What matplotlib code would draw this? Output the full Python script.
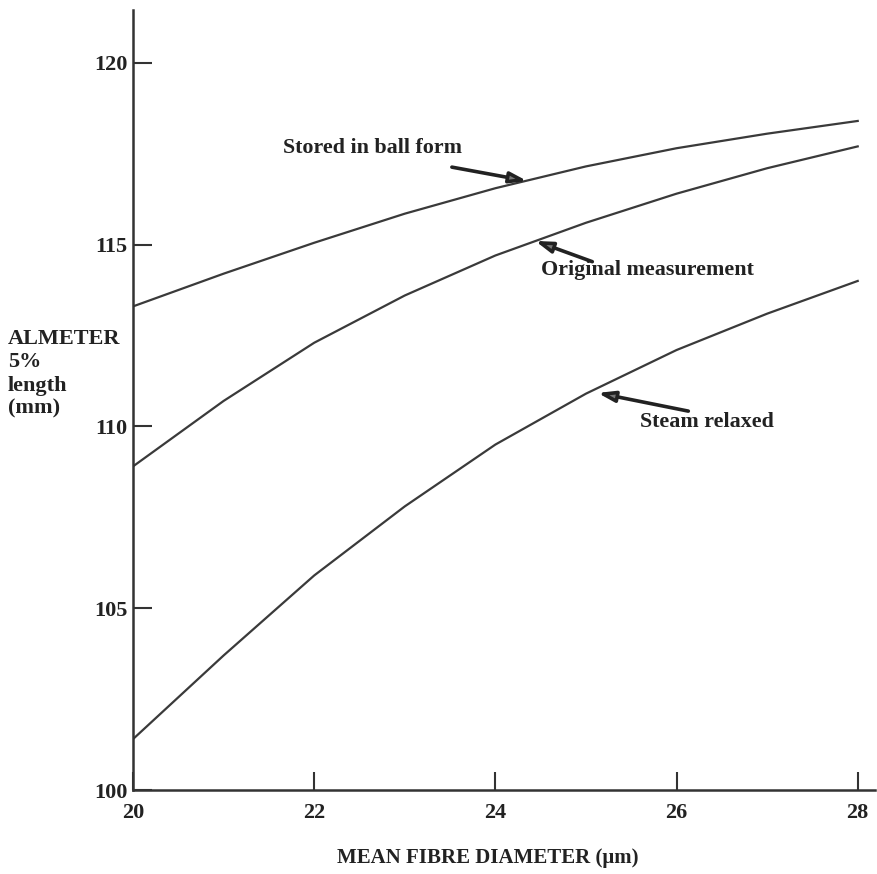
import matplotlib
matplotlib.use('Agg')
import matplotlib.pyplot as plt

# data
diameter = [20, 21, 22, 23, 24, 25, 26, 27, 28]
stored_ball = [113.3, 114.2, 115.05, 115.85, 116.55, 117.15, 117.65, 118.05, 118.4]
original = [108.9, 110.7, 112.3, 113.6, 114.7, 115.6, 116.4, 117.1, 117.7]
steam_relaxed = [101.4, 103.7, 105.9, 107.8, 109.5, 110.9, 112.1, 113.1, 114.0]

x_ticks = [20, 22, 24, 26, 28]
y_ticks = [100, 105, 110, 115, 120]

plt.rcParams['font.family'] = ['Liberation Serif', 'DejaVu Serif']
plt.rcParams['font.weight'] = 'bold'

fig = plt.figure(figsize=(8.78, 8.74), dpi=100)
ax = fig.add_axes([0.1515, 0.0961, 0.845, 0.8924])

line_kw = dict(color='#3a3a3a', lw=1.6)
ax.plot(diameter, stored_ball, **line_kw)
ax.plot(diameter, original, **line_kw)
ax.plot(diameter, steam_relaxed, **line_kw)

ax.set_xlim(20, 28.19)
ax.set_ylim(100, 121.45)
ax.set_xticks(x_ticks)
ax.set_yticks(y_ticks)
ax.tick_params(direction='in', length=14, width=1.5, color='#333333',
               labelsize=16, pad=4)
ax.tick_params(axis='x', length=13, pad=9)
for lab in ax.get_xticklabels() + ax.get_yticklabels():
    lab.set_fontweight('bold')
    lab.set_color('#222222')

for side in ('top', 'right'):
    ax.spines[side].set_visible(False)
for side in ('left', 'bottom'):
    ax.spines[side].set_linewidth(1.8)
    ax.spines[side].set_color('#333333')

# annotations with arrows
arrow = dict(arrowstyle='-|>,head_length=1.0,head_width=0.32', lw=2.6,
             ec='#222222', fc='#777777', shrinkA=0, shrinkB=0)
ax.annotate('', xy=(24.35, 116.75), xytext=(23.52, 117.13), arrowprops=arrow)
ax.annotate('', xy=(24.44, 115.1), xytext=(25.07, 114.53), arrowprops=arrow)
ax.annotate('', xy=(25.13, 110.92), xytext=(26.13, 110.42), arrowprops=arrow)

txt_kw = dict(fontsize=15.8, fontweight='bold', color='#222222', va='center', ha='left')
ax.text(21.66, 117.66, 'Stored in ball form', **txt_kw)
ax.text(24.5, 114.3, 'Original measurement', **txt_kw)
ax.text(25.6, 110.12, 'Steam relaxed', **txt_kw)

fig.text(8 / 878, 1 - 329 / 874, 'ALMETER\n5%\nlength\n(mm)', fontsize=16,
         fontweight='bold', color='#222222', ha='left', va='top', linespacing=1.22)
fig.text(488 / 878, 1 - 858 / 874, 'MEAN FIBRE DIAMETER (\u03bcm)', fontsize=15,
         fontweight='bold', color='#222222', ha='center', va='center')

fig.savefig('out.png', dpi=100)
